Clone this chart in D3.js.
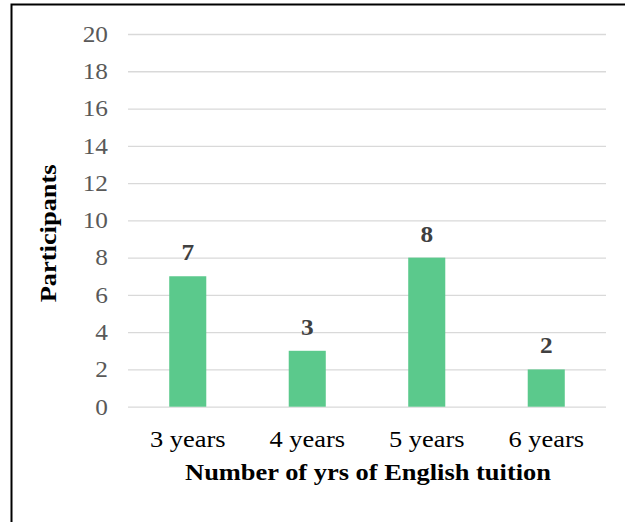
<!DOCTYPE html>
<html>
<head>
<meta charset="utf-8">
<script src="https://cdn.jsdelivr.net/npm/d3@7"></script>
<style>
  html, body { margin: 0; padding: 0; background: #fff; }
  svg { display: block; }
  text { font-family: "Liberation Serif", "Times New Roman", serif; }
</style>
</head>
<body>
<svg id="chart" width="627" height="522"></svg>
<script>
// Participants by years of English tuition
const categories = ["3 years", "4 years", "5 years", "6 years"];
const participants = [7, 3, 8, 2];
const yTicks = [0, 2, 4, 6, 8, 10, 12, 14, 16, 18, 20];

const svg = d3.select("#chart");
const W = 627, H = 522;
const plot = { left: 128, right: 606, top: 34, bottom: 406.7 };
const FONT = 23;

// widen glyphs horizontally, keeping each label anchored at its x/y
function widen(sel, k) {
  sel.each(function () {
    const t = d3.select(this);
    const x0 = +t.attr("x") || 0;
    const y0 = +t.attr("y") || 0;
    const base = t.attr("transform") || "";
    t.attr("x", 0).attr("y", 0)
      .attr("transform", `${base} translate(${x0},${y0}) scale(${k},1)`);
  });
}

// Frame: top and left edges
svg.append("path")
  .attr("d", `M11.5,${H} L11.5,4.5 L625,4.5`)
  .attr("fill", "none")
  .attr("stroke", "#000")
  .attr("stroke-width", 2);

const x = d3.scaleBand()
  .domain(categories)
  .range([plot.left, plot.right])
  .paddingInner(0.69)
  .paddingOuter(0.345);

const y = d3.scaleLinear()
  .domain([0, 20])
  .range([plot.bottom, plot.top]);

// Horizontal gridlines + y tick labels
const yAxis = d3.axisLeft(y)
  .tickValues(yTicks)
  .tickSize(-(plot.right - plot.left))
  .tickPadding(20)
  .tickFormat(d3.format("d"));

const gy = svg.append("g")
  .attr("transform", `translate(${plot.left},0)`)
  .call(yAxis);
gy.select(".domain").remove();
gy.selectAll(".tick line")
  .attr("stroke", "#d9d9d9")
  .attr("stroke-width", 1.3);
gy.selectAll(".tick text")
  .attr("fill", "#595959")
  .attr("font-size", FONT)
  .attr("font-family", "Liberation Serif, serif")
  .call(widen, 1.1);

// Bars
svg.append("g").selectAll("rect")
  .data(participants)
  .join("rect")
  .attr("x", (d, i) => x(categories[i]))
  .attr("y", d => y(d))
  .attr("width", x.bandwidth())
  .attr("height", d => y(0) - y(d))
  .attr("fill", "#5bc98c");

// Value labels
svg.append("g").selectAll("text")
  .data(participants)
  .join("text")
  .attr("x", (d, i) => x(categories[i]) + x.bandwidth() / 2)
  .attr("y", d => y(d) - 16)
  .attr("text-anchor", "middle")
  .attr("font-size", FONT)
  .attr("font-weight", "bold")
  .attr("fill", "#404040")
  .text(d => d)
  .call(widen, 1.1);

// Category labels
const xAxis = d3.axisBottom(x).tickSize(0).tickPadding(0);
const gx = svg.append("g")
  .attr("transform", `translate(0,${plot.bottom})`)
  .call(xAxis);
gx.select(".domain").remove();
gx.selectAll(".tick text")
  .attr("dy", null)
  .attr("y", 40)
  .attr("fill", "#000")
  .attr("font-size", FONT)
  .attr("font-family", "Liberation Serif, serif")
  .call(widen, 1.15);

// Axis titles
svg.append("text")
  .attr("x", (plot.left + plot.right) / 2 + 1)
  .attr("y", 480)
  .attr("text-anchor", "middle")
  .attr("font-size", FONT)
  .attr("font-weight", "bold")
  .attr("fill", "#000")
  .text("Number of yrs of English tuition")
  .call(widen, 1.15);

svg.append("text")
  .attr("transform", `translate(56,${(plot.top + plot.bottom) / 2 + 13}) rotate(-90)`)
  .attr("text-anchor", "middle")
  .attr("font-size", FONT)
  .attr("font-weight", "bold")
  .attr("fill", "#000")
  .text("Participants")
  .call(widen, 1.15);
</script>
</body>
</html>
